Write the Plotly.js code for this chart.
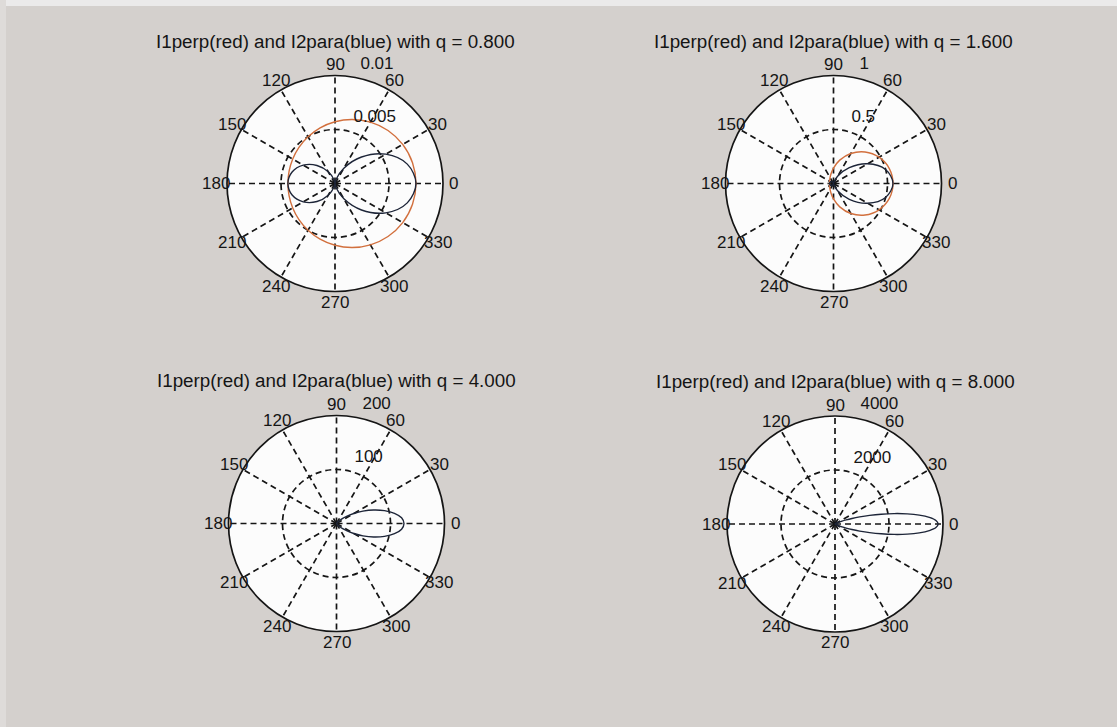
<!DOCTYPE html>
<html>
<head>
<meta charset="utf-8">
<script src="https://cdn.plot.ly/plotly-3.0.1.min.js"></script>
<style>
  html, body { margin: 0; padding: 0; background: #d4d0cd; }
  #plot { width: 1117px; height: 727px; }
</style>
</head>
<body>
<div id="plot"></div>
<script>
// Angular grid: spokes every 30 degrees, labelled outside the rim
const angTicks  = [0, 30, 60, 90, 120, 150, 180, 210, 240, 270, 300, 330];
const angLabels = ['0', '30', '60', '90', '120', '150', '180', '210', '240', '270', '300', '330'];

// Scattering angle samples (degrees) for the two broad patterns
const theta15 = [0, 15, 30, 45, 60, 75, 90, 105, 120, 135, 150, 165, 180,
                 195, 210, 225, 240, 255, 270, 285, 300, 315, 330, 345, 360];

// q = 0.800
const titleQ08   = 'I1perp(red) and I2para(blue) with q = 0.800';
const rmaxQ08    = 0.01;
const radTickQ08 = [0.005, 0.01];
const radLblQ08  = ['0.005', '0.01'];
const i1perpQ08  = [0.0075, 0.00743, 0.00724, 0.00694, 0.00656, 0.00614, 0.00572, 0.00533, 0.00499,
                    0.00472, 0.00452, 0.0044, 0.00436, 0.0044, 0.00452, 0.00472, 0.00499, 0.00533,
                    0.00572, 0.00614, 0.00656, 0.00694, 0.00724, 0.00743, 0.0075];
const i2paraQ08  = [0.0075, 0.00693, 0.00543, 0.00347, 0.00164, 0.00041, 0, 0.00036, 0.00125,
                    0.00236, 0.00339, 0.00411, 0.00436, 0.00411, 0.00339, 0.00236, 0.00125, 0.00036,
                    0, 0.00041, 0.00164, 0.00347, 0.00543, 0.00693, 0.0075];

// q = 1.600
const titleQ16   = 'I1perp(red) and I2para(blue) with q = 1.600';
const rmaxQ16    = 1;
const radTickQ16 = [0.5, 1];
const radLblQ16  = ['0.5', '1'];
const i1perpQ16  = [0.551, 0.535, 0.487, 0.413, 0.321, 0.224, 0.143, 0.091, 0.064, 0.049, 0.042, 0.038,
                    0.037, 0.038, 0.042, 0.049, 0.064, 0.091, 0.143, 0.224, 0.321, 0.413, 0.487, 0.535, 0.551];
const i2paraQ16  = [0.551, 0.499, 0.365, 0.207, 0.080, 0.015, 0, 0.006, 0.016, 0.025, 0.032, 0.035,
                    0.037, 0.035, 0.032, 0.025, 0.016, 0.006, 0, 0.015, 0.080, 0.207, 0.365, 0.499, 0.551];

// q = 4.000 (forward lobe only)
const titleQ40   = 'I1perp(red) and I2para(blue) with q = 4.000';
const rmaxQ40    = 200;
const radTickQ40 = [100, 200];
const radLblQ40  = ['100', '200'];
const thetaQ40   = [-70, -60, -55, -50, -45, -40, -35, -30, -25, -20, -15, -10, -5, 0,
                    5, 10, 15, 20, 25, 30, 35, 40, 45, 50, 55, 60, 70];
const lobeQ40    = [0, 1, 2, 4, 8, 15, 24, 37, 54, 73, 92, 109, 121, 125,
                    121, 109, 92, 73, 54, 37, 24, 15, 8, 4, 2, 1, 0];

// q = 8.000 (narrow forward lobe)
const titleQ80   = 'I1perp(red) and I2para(blue) with q = 8.000';
const rmaxQ80    = 4000;
const radTickQ80 = [2000, 4000];
const radLblQ80  = ['2000', '4000'];
const thetaQ80   = [-35, -30, -25, -22, -20, -18, -16, -14, -12, -10, -8, -6, -4, -2, 0,
                    2, 4, 6, 8, 10, 12, 14, 16, 18, 20, 22, 25, 30, 35];
const lobeQ80    = [0, 30, 130, 280, 440, 660, 950, 1320, 1750, 2220, 2700, 3140, 3500, 3740, 3820,
                    3740, 3500, 3140, 2700, 2220, 1750, 1320, 950, 660, 440, 280, 130, 30, 0];

// ---- page geometry ----
const W = 1117, H = 727, R = 108;
const RED = '#d2703e', BLUE = '#1d2538', INK = '#151515';
const DASH = '6px,4px';
const DEG = Math.PI / 180;

function domainAt(cx, cy) {
  return { x: [(cx - R) / W, (cx + R) / W], y: [1 - (cy + R) / H, 1 - (cy - R) / H] };
}

function polarLayout(cx, cy, rmax, ticks) {
  return {
    domain: domainAt(cx, cy),
    bgcolor: '#fcfcfc',
    radialaxis: {
      range: [0, rmax], tickmode: 'array', tickvals: ticks,
      showticklabels: false, ticks: '', showline: false,
      gridcolor: INK, gridwidth: 1.7, griddash: DASH
    },
    angularaxis: {
      tickmode: 'array', tickvals: angTicks, showticklabels: false, ticks: '',
      rotation: 0, direction: 'counterclockwise',
      showline: true, linecolor: INK, linewidth: 1.7,
      gridcolor: INK, gridwidth: 1.7, griddash: DASH
    }
  };
}

// page position of a polar point (radius given as a fraction of the rim)
function pagePos(cx, cy, frac, deg) {
  return { x: (cx + frac * R * Math.cos(deg * DEG)) / W,
           y: 1 - (cy - frac * R * Math.sin(deg * DEG)) / H };
}

function labelAnnotations(p) {
  const out = [];
  angTicks.forEach((a, i) => {
    const pos = pagePos(p.cx, p.cy, 1.1, a);
    out.push({ text: angLabels[i], xref: 'paper', yref: 'paper', x: pos.x, y: pos.y,
               xanchor: 'center', yanchor: 'middle', showarrow: false, borderpad: 0,
               font: { size: 17, color: INK } });
  });
  p.ticks.forEach((v, i) => {
    const pos = pagePos(p.cx, p.cy, (v + p.rmax / 40) / p.rmax, 82);
    out.push({ text: '\u00a0\u00a0' + p.labels[i], xref: 'paper', yref: 'paper', x: pos.x, y: pos.y,
               xanchor: 'left', yanchor: 'bottom', showarrow: false, borderpad: 0,
               font: { size: 17, color: INK } });
  });
  return out;
}

function curve(sub, theta, r, color) {
  return {
    type: 'scatterpolar', subplot: sub, mode: 'lines',
    theta: theta, r: r, hoverinfo: 'skip',
    line: { color: color, width: 1.4, shape: 'spline', smoothing: 1 }
  };
}

const panels = [
  { sub: 'polar',  cx: 335, cy: 183.5, rmax: rmaxQ08, ticks: radTickQ08, labels: radLblQ08, title: titleQ08,
    curves: [curve('polar', theta15, i1perpQ08, RED), curve('polar', theta15, i2paraQ08, BLUE)] },
  { sub: 'polar2', cx: 833.5, cy: 183.5, rmax: rmaxQ16, ticks: radTickQ16, labels: radLblQ16, title: titleQ16,
    curves: [curve('polar2', theta15, i1perpQ16, RED), curve('polar2', theta15, i2paraQ16, BLUE)] },
  { sub: 'polar3', cx: 336.5, cy: 523.5, rmax: rmaxQ40, ticks: radTickQ40, labels: radLblQ40, title: titleQ40,
    curves: [curve('polar3', thetaQ40, lobeQ40, BLUE)] },
  { sub: 'polar4', cx: 835, cy: 524, rmax: rmaxQ80, ticks: radTickQ80, labels: radLblQ80, title: titleQ80,
    curves: [curve('polar4', thetaQ80, lobeQ80, BLUE)] }
];

const data = [];
const layout = {
  width: W, height: H,
  margin: { l: 0, r: 0, t: 0, b: 0 },
  paper_bgcolor: '#d4d0cd',
  showlegend: false,
  font: { family: 'Liberation Sans, Arial, sans-serif', size: 17, color: INK },
  annotations: [],
  shapes: [
    { type: 'rect', xref: 'paper', yref: 'paper', x0: 0, x1: 1, y0: 1 - 6 / H, y1: 1,
      fillcolor: '#ebeaea', line: { width: 0 }, layer: 'below' },
    { type: 'rect', xref: 'paper', yref: 'paper', x0: 0, x1: 6 / W, y0: 0, y1: 1,
      fillcolor: '#dedbd9', line: { width: 0 }, layer: 'below' }
  ]
};

panels.forEach(p => {
  layout[p.sub] = polarLayout(p.cx, p.cy, p.rmax, p.ticks);
  p.curves.forEach(c => data.push(c));
  labelAnnotations(p).forEach(a => layout.annotations.push(a));
  layout.annotations.push({
    text: p.title, xref: 'paper', yref: 'paper',
    x: p.cx / W, y: 1 - (p.cy - 142.5) / H,
    xanchor: 'center', yanchor: 'middle', showarrow: false,
    font: { size: 18.8, color: INK }
  });
});

Plotly.newPlot('plot', data, layout, { staticPlot: true, displayModeBar: false });
</script>
</body>
</html>
